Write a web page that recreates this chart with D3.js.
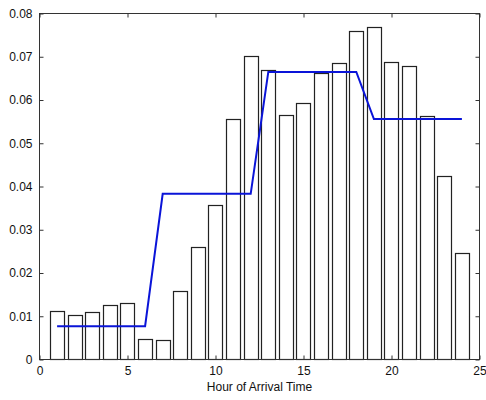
<!DOCTYPE html>
<html>
<head>
<meta charset="utf-8">
<script src="https://cdn.jsdelivr.net/npm/d3@7"></script>
<style>
  body { margin: 0; background: #fff; }
  svg { display: block; }
  text { font-family: Arial, "Liberation Sans", sans-serif; }
</style>
</head>
<body>
<svg id="chart"></svg>
<script>
const width = 486;
const height = 400;

// hours of arrival and histogram frequencies
const hours = d3.range(1, 25);
const freq = [0.0113, 0.0104, 0.0110, 0.0125, 0.0130, 0.0048, 0.0044, 0.0158,
              0.0260, 0.0357, 0.0555, 0.0702, 0.0670, 0.0565, 0.0592, 0.0663,
              0.0686, 0.0759, 0.0768, 0.0688, 0.0679, 0.0562, 0.0425, 0.0247];
// fitted piecewise rate (blue line)
const rate = [0.0077, 0.0077, 0.0077, 0.0077, 0.0077, 0.0077,
              0.0383, 0.0383, 0.0383, 0.0383, 0.0383, 0.0383,
              0.0665, 0.0665, 0.0665, 0.0665, 0.0665, 0.0665,
              0.0556, 0.0556, 0.0556, 0.0556, 0.0556, 0.0556];
const xTicks = [0, 5, 10, 15, 20, 25];
const yTicks = [0, 0.01, 0.02, 0.03, 0.04, 0.05, 0.06, 0.07, 0.08];

const pLeft = 39.5, pRight = 479.5, pTop = 13.5, pBottom = 359.5;

const svg = d3.select('#chart').attr('width', width).attr('height', height);

const x = d3.scaleLinear().domain([0, 25]).range([pLeft, pRight]);
const y = d3.scaleLinear().domain([0, 0.08]).range([pBottom, pTop]);

const barW = x(0.8) - x(0);

// bars
svg.append('g').selectAll('rect')
  .data(hours)
  .enter()
  .append('rect')
  .attr('x', (d) => Math.round(x(d) - barW / 2) + 0.5)
  .attr('y', (d, i) => Math.round(y(freq[i])) + 0.5)
  .attr('width', Math.round(barW))
  .attr('height', (d, i) => pBottom - Math.round(y(freq[i])) - 0.5)
  .attr('fill', '#fff')
  .attr('stroke', '#222')
  .attr('stroke-width', 1.2);

// line
const line = d3.line().x(d => x(d)).y((d, i) => y(rate[i]));
svg.append('path')
  .datum(hours)
  .attr('d', line)
  .attr('fill', 'none')
  .attr('stroke', '#0a14d8')
  .attr('stroke-width', 2);

// box
svg.append('rect')
  .attr('x', pLeft).attr('y', pTop)
  .attr('width', pRight - pLeft).attr('height', pBottom - pTop)
  .attr('fill', 'none').attr('stroke', '#333').attr('stroke-width', 1);

// axes with inward ticks, MATLAB style
const xAxis = svg.append('g').attr('transform', `translate(0,${pBottom})`)
  .call(d3.axisBottom(x).tickValues(xTicks).tickSizeInner(-4).tickSizeOuter(0).tickPadding(7).tickFormat(d3.format('d')));
const xTop = svg.append('g').attr('transform', `translate(0,${pTop})`)
  .call(d3.axisTop(x).tickValues(xTicks).tickSizeInner(-4).tickSizeOuter(0).tickFormat(''));
const yAxis = svg.append('g').attr('transform', `translate(${pLeft},0)`)
  .call(d3.axisLeft(y).tickValues(yTicks).tickSizeInner(-4).tickSizeOuter(0).tickPadding(7).tickFormat(d => d === 0 ? '0' : d3.format('.2f')(d)));
const yRight = svg.append('g').attr('transform', `translate(${pRight},0)`)
  .call(d3.axisRight(y).tickValues(yTicks).tickSizeInner(-4).tickSizeOuter(0).tickFormat(''));

[xAxis, xTop, yAxis, yRight].forEach(a => {
  a.select('.domain').remove();
  a.selectAll('line').attr('stroke', '#333');
  a.selectAll('text').attr('fill', '#111').style('font-size', '12px')
    .style('font-family', 'Arial, "Liberation Sans", sans-serif');
});

svg.append('text')
  .attr('x', (pLeft + pRight) / 2)
  .attr('y', 391)
  .attr('text-anchor', 'middle')
  .attr('fill', '#111')
  .style('font-size', '12px')
  .text('Hour of Arrival Time');
</script>
</body>
</html>
